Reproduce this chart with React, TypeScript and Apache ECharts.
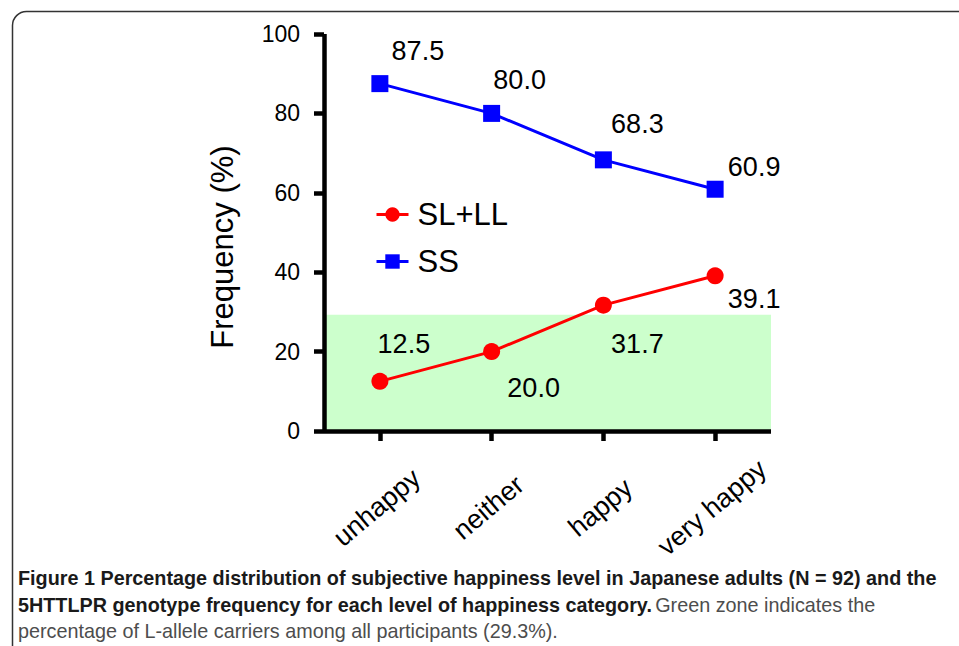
import React, { useEffect, useRef } from "react";
import * as echarts from "echarts";

const categories = ["unhappy", "neither", "happy", "very happy"];
const slllValues = [12.5, 20.0, 31.7, 39.1];
const ssValues = [87.5, 80.0, 68.3, 60.9];
const greenZone = 29.3;
const yTicks = [0, 20, 40, 60, 80, 100];

const slllLabelOffsets = [[24, -37], [42, 36], [34, 39], [39, 23]];
const ssLabelOffsets = [[38, -33], [28, -33], [34, -36], [39, -22]];

export default function App() {
  const ref = useRef<HTMLDivElement>(null);
  useEffect(() => {
    if (!ref.current) return;
    const chart = echarts.init(ref.current, null, { renderer: "svg" });
    const font = "'Liberation Sans', Arial, sans-serif";
    const capFont = "'Liberation Sans Narrow', 'Liberation Sans', sans-serif";
    const mkData = (vals: number[], offs: number[][]) =>
      vals.map((v, i) => ({
        value: v,
        label: { show: true, position: "inside", offset: offs[i], formatter: v.toFixed(1) },
      }));
    const axisStroke = { color: "#000000", width: 4.5, type: "solid", cap: "butt" };
    chart.setOption({
      animation: false,
      backgroundColor: "#ffffff",
      textStyle: { fontFamily: font },
      grid: { left: 324, right: 188, top: 34, bottom: 215, containLabel: false },
      legend: {
        orient: "vertical",
        left: 370,
        top: 194,
        itemWidth: 32,
        itemHeight: 18,
        itemGap: 16,
        lineStyle: { width: 3 },
        textStyle: { fontSize: 31, color: "#000", fontFamily: font, padding: [0, 0, 0, 4] },
        data: ["SL+LL", "SS"],
      },
      xAxis: {
        type: "category",
        data: categories,
        boundaryGap: true,
        z: 10,
        axisLine: { show: true, lineStyle: axisStroke },
        axisTick: { show: true, alignWithLabel: true, length: 10, lineStyle: axisStroke },
        axisLabel: {
          rotate: 40,
          fontSize: 27,
          color: "#000",
          margin: 74,
          align: "center",
          verticalAlign: "middle",
          fontFamily: font,
          padding: [0, 8, 0, 0],
        },
      },
      yAxis: {
        type: "value",
        min: 0,
        max: 100,
        interval: 20,
        z: 10,
        axisLine: { show: true, lineStyle: axisStroke },
        axisTick: { show: true, length: 10, lineStyle: axisStroke },
        axisLabel: {
          fontSize: 23,
          color: "#000",
          margin: 24,
          fontFamily: font,
          formatter: (v: number) => (yTicks.includes(v) ? String(v) : ""),
        },
        splitLine: { show: false },
      },
      series: [
        {
          name: "SL+LL",
          type: "line",
          data: mkData(slllValues, slllLabelOffsets),
          symbol: "circle",
          symbolSize: 17,
          itemStyle: { color: "#ff0000" },
          lineStyle: { color: "#ff0000", width: 3 },
          label: { fontSize: 27, color: "#000", fontFamily: font },
          markArea: {
            silent: true,
            itemStyle: { color: "#ccffcc" },
            data: [[{ yAxis: 0 }, { yAxis: greenZone }]],
          },
          z: 3,
        },
        {
          name: "SS",
          type: "line",
          data: mkData(ssValues, ssLabelOffsets),
          symbol: "rect",
          symbolSize: 17,
          itemStyle: { color: "#0000ff" },
          lineStyle: { color: "#0000ff", width: 3 },
          label: { fontSize: 27, color: "#000", fontFamily: font },
          z: 3,
        },
      ],
      graphic: [
        {
          type: "rect",
          shape: { x: 12.5, y: 11.5, width: 1000, height: 700, r: 14 },
          style: { fill: "none", stroke: "#333", lineWidth: 1.5 },
          silent: true,
        },
        {
          type: "text",
          x: 222,
          y: 247,
          rotation: Math.PI / 2,
          style: {
            text: "Frequency (%)",
            fontSize: 31,
            fill: "#000",
            fontFamily: font,
            align: "center",
            verticalAlign: "middle",
          },
        },
        {
          type: "text",
          left: 18,
          top: 568,
          style: {
            text:
              "{b|Figure 1 Percentage distribution of subjective happiness level in Japanese adults (N = 92) and the}\n" +
              "{b|5HTTLPR genotype frequency for each level of happiness category.} {r|Green zone indicates the}\n" +
              "{r|percentage of L-allele carriers among all participants (29.3%).}",
            rich: {
              b: { fontSize: 19.8, fontWeight: "bold", fill: "#1a1a1a", fontFamily: capFont, lineHeight: 26.5 },
              r: { fontSize: 19.8, fill: "#4d4d4d", fontFamily: capFont, lineHeight: 26.5 },
            },
          },
        },
      ],
    });
    return () => chart.dispose();
  }, []);
  return <div ref={ref} style={{ width: 959, height: 646, position: "absolute", left: 0, top: 0 }} />;
}
